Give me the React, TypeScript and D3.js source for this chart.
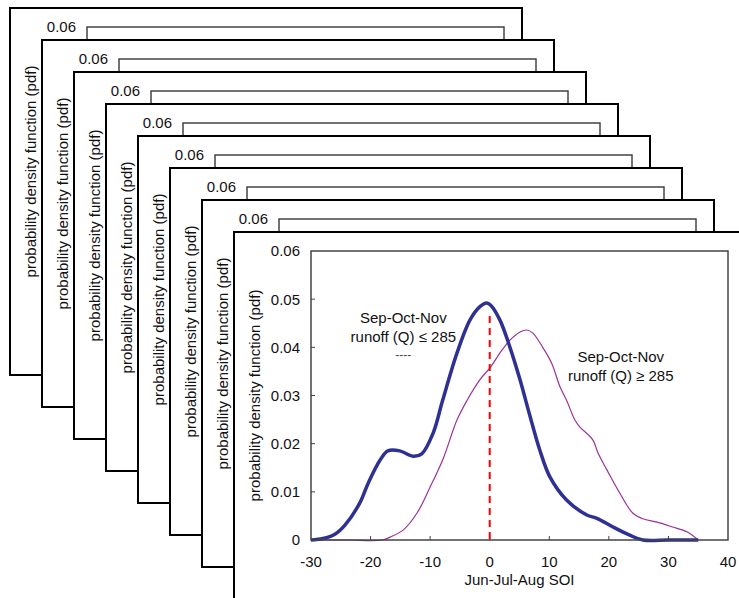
import React from "react";
import * as d3 from "d3";

const xTicks = [-30, -20, -10, 0, 10, 20, 30, 40];
const yTicks = [0, 0.01, 0.02, 0.03, 0.04, 0.05, 0.06];
const yTickLabels = ["0", "0.01", "0.02", "0.03", "0.04", "0.05", "0.06"];

const lowX = [-30, -28, -26, -24.3, -21.8, -20.4, -18.4, -17.1, -15.1, -12.9, -11.4, -9.5, -7.9, -5.5, -3.3, -1.6, -0.5, 0.2, 1.7, 3.4, 5.1, 6.7, 8.4, 10.1, 12.9, 16.3, 18, 20.7, 23.5, 25.7, 30, 35];
const lowY = [0, 0.0003, 0.0012, 0.0031, 0.0077, 0.0118, 0.0166, 0.0185, 0.0185, 0.0174, 0.0179, 0.0222, 0.029, 0.0388, 0.0457, 0.0485, 0.0492, 0.0487, 0.0457, 0.04, 0.0332, 0.026, 0.0187, 0.0131, 0.0083, 0.0052, 0.0045, 0.0027, 0.001, 0, 0, 0];

const highX = [-30, -24, -18, -16.7, -14.5, -12.2, -10, -7.9, -5.5, -3.8, -1.7, 0.2, 1.7, 3.4, 5.1, 6.2, 7.2, 8.9, 10.4, 11.8, 12.9, 14.3, 15.1, 17.3, 18.2, 19.7, 21.8, 24, 25.7, 28.1, 30.7, 33.1, 35];
const highY = [0, 0, 0, 0.0006, 0.0021, 0.0056, 0.011, 0.0166, 0.0249, 0.029, 0.0332, 0.036, 0.0388, 0.0415, 0.0432, 0.0436, 0.043, 0.04, 0.0367, 0.0318, 0.029, 0.0249, 0.0235, 0.0208, 0.018, 0.0145, 0.0098, 0.0056, 0.0044, 0.0037, 0.0027, 0.0017, 0];

const splitX = 0;
const splitTop = 0.0465;

const yAxisTitle = "probability density function (pdf)";
const xAxisTitle = "Jun-Jul-Aug SOI";
const lowLabel = ["Sep-Oct-Nov", "runoff (Q) \u2264 285"];
const highLabel = ["Sep-Oct-Nov", "runoff (Q) \u2265 285"];

const CARD_COUNT = 8;
const FONT = "'Liberation Sans', Arial, Helvetica, sans-serif";

function Card({ index, front }: { index: number; front: boolean }) {
  const cx = 10 + 32 * index;
  const cy = 8 + 32 * index;
  const cw = 512;
  const ch = 367;
  const pl = cx + 77;
  const pt = cy + 19;
  const pw = 417;
  const ph = 289;
  const x = d3.scaleLinear().domain([-30, 40]).range([pl, pl + pw]);
  const y = d3.scaleLinear().domain([0, 0.06]).range([pt + ph, pt]);
  const line = d3
    .line<[number, number]>()
    .x((d) => x(d[0]))
    .y((d) => y(d[1]))
    .curve(d3.curveCatmullRom.alpha(0.5));
  const lowPts = lowX.map((v, i) => [v, lowY[i]] as [number, number]);
  const highPts = highX.map((v, i) => [v, highY[i]] as [number, number]);
  const axisColor = "#444";
  // background cards only show their top strip and left strip; hidden parts are not drawn
  const shownYTicks = front ? yTicks.map((t, i) => i) : [yTicks.length - 1];
  return (
    <g>
      <rect x={cx} y={cy} width={cw} height={ch} fill="#fff" stroke="#000" strokeWidth={2} />
      <text
        transform={`translate(${cx + 26},${pt + ph / 2}) rotate(-90)`}
        textAnchor="middle"
        fontSize={15}
        fill="#111"
      >
        {yAxisTitle}
      </text>
      {shownYTicks.map((i) => (
        <text key={"yl" + i} x={pl - 11} y={y(yTicks[i])} dy="0.36em" textAnchor="end" fontSize={15} fill="#111">
          {yTickLabels[i]}
        </text>
      ))}
      {front && (
        <g>
          {yTicks.slice(1, -1).map((t, i) => (
            <line key={"yt" + i} x1={pl} x2={pl + 4} y1={y(t)} y2={y(t)} stroke={axisColor} strokeWidth={1} />
          ))}
          {xTicks.map((t, i) => (
            <text key={"xl" + i} x={x(t)} y={pt + ph + 27} textAnchor="middle" fontSize={15} fill="#111">
              {t}
            </text>
          ))}
          {xTicks.slice(1, -1).map((t, i) => (
            <line key={"xt" + i} x1={x(t)} x2={x(t)} y1={pt + ph} y2={pt + ph - 4} stroke={axisColor} strokeWidth={1} />
          ))}
          <text x={(pl + pl + pw) / 2} y={pt + ph + 45} textAnchor="middle" fontSize={15} fill="#111">
            {xAxisTitle}
          </text>
          <path d={line(highPts) || ""} fill="none" stroke="#993399" strokeWidth={1.2} />
          <path d={line(lowPts) || ""} fill="none" stroke="#2e3192" strokeWidth={3.5} strokeLinejoin="round" />
          <line
            x1={x(splitX)}
            x2={x(splitX)}
            y1={y(splitTop)}
            y2={y(0)}
            stroke="#ff0000"
            strokeWidth={2}
            strokeDasharray="7,5"
          />
          <text x={x(-14.5)} y={y(0.045)} textAnchor="middle" fontSize={15} fill="#111">
            <tspan x={x(-14.5)}>{lowLabel[0]}</tspan>
            <tspan x={x(-14.5)} dy={19}>{lowLabel[1]}</tspan>
          </text>
          <text x={x(-14.5)} y={y(0.045) + 36} textAnchor="middle" fontSize={12} fill="#444">
            ----
          </text>
          <text x={x(22)} y={y(0.037)} textAnchor="middle" fontSize={15} fill="#111">
            <tspan x={x(22)}>{highLabel[0]}</tspan>
            <tspan x={x(22)} dy={19}>{highLabel[1]}</tspan>
          </text>
        </g>
      )}
      <rect x={pl} y={pt} width={pw} height={ph} fill="none" stroke={axisColor} strokeWidth={1.5} />
    </g>
  );
}

export default function App() {
  return (
    <svg
      width={739}
      height={598}
      style={{ position: "absolute", left: 0, top: 0, background: "#fff" }}
      fontFamily={FONT}
    >
      <rect x={0} y={0} width={739} height={598} fill="#fff" />
      {d3.range(CARD_COUNT).map((i) => (
        <Card key={i} index={i} front={i === CARD_COUNT - 1} />
      ))}
    </svg>
  );
}
